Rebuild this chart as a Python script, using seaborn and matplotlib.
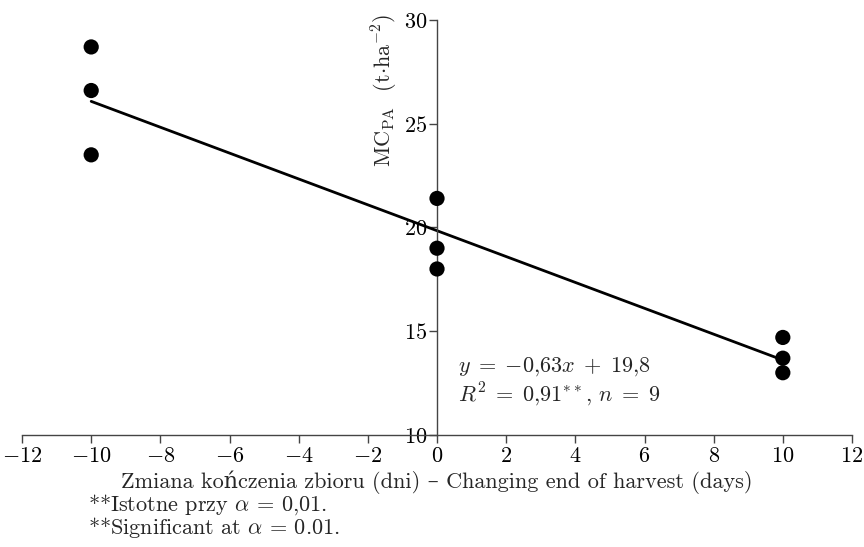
import matplotlib
matplotlib.use("Agg")
import matplotlib.pyplot as plt
import seaborn as sns
import pandas as pd

days = [-10, -10, -10, 0, 0, 0, 10, 10, 10]
mc_pa = [28.7, 26.6, 23.5, 21.4, 19.0, 18.0, 14.7, 13.7, 13.0]
xticks = [-12, -10, -8, -6, -4, -2, 0, 2, 4, 6, 8, 10, 12]
yticks = [10, 15, 20, 25, 30]

sns.set_theme(style="ticks")
plt.rcParams['font.family'] = ['cmr10', 'DejaVu Serif']
plt.rcParams['mathtext.fontset'] = 'cm'
plt.rcParams['axes.formatter.use_mathtext'] = True
plt.rcParams['axes.unicode_minus'] = True

FS = 16

df = pd.DataFrame({"x": days, "y": mc_pa})

fig = plt.figure(figsize=(8.64, 5.47), dpi=100)
ax = fig.add_axes([0.0255, 0.2048, 0.9606, 0.7587])

sns.regplot(data=df, x="x", y="y", ax=ax, ci=None, truncate=True,
            scatter_kws=dict(s=120, color="black", edgecolor="none", alpha=1, zorder=3),
            line_kws=dict(color="black", lw=2))

ax.set_xlim(-12, 12)
ax.set_ylim(10, 30)
ax.set_xticks(xticks)
ax.set_yticks(yticks)
ax.spines['left'].set_position(('data', 0))
ax.spines['bottom'].set_position(('data', 10))
ax.spines['right'].set_visible(False)
ax.spines['top'].set_visible(False)
for s in ['left', 'bottom']:
    ax.spines[s].set_color('#444444')
    ax.spines[s].set_linewidth(1.0)
ax.tick_params(axis='both', colors='#444444', labelcolor='black', labelsize=FS,
               length=6, width=1.0, direction='out')
ax.tick_params(axis='y', pad=1)
ax.tick_params(axis='x', pad=2)

ax.set_xlabel("")
ax.set_ylabel("")
fig.text(437/864, 1 - 482/547, "Zmiana kończenia zbioru (dni) – Changing end of harvest (days)",
         ha='center', va='center', fontsize=FS)
ax.text(-1.5, 26.6, r"MC$_{\rm PA}$  (t$\cdot$ha$^{-2}$)", rotation=90,
        ha='center', va='center', fontsize=FS)

ax.text(0.6, 13.3, r"$y \;=\; {-}0{,}63x \;+\; 19{,}8$", fontsize=FS, va='center')
ax.text(0.6, 11.95, r"$R^2 \;=\; 0{,}91^{**}$, $n \;=\; 9$", fontsize=FS, va='center')

fig.text(88/864, 1 - 505/547, r"**Istotne przy $\alpha$ = 0,01.", fontsize=FS, va='center')
fig.text(88/864, 1 - 528/547, r"**Significant at $\alpha$ = 0.01.", fontsize=FS, va='center')

fig.savefig("out.png", dpi=100)
